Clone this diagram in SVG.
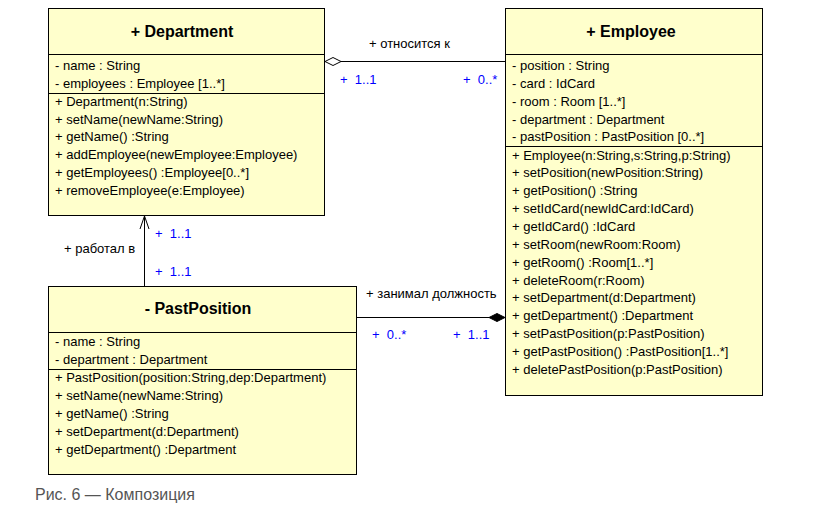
<svg xmlns="http://www.w3.org/2000/svg" width="827" height="517" viewBox="0 0 827 517">
<style>
.box{fill:#ffffcc;stroke:#000;stroke-width:1}
.ln{stroke:#000;stroke-width:1}
text{font-family:"Liberation Sans",Arial,sans-serif;font-size:13px;fill:#000}
.t{font-size:16px;font-weight:bold;text-anchor:middle}
.b{fill:#0000ff;white-space:pre}
.cap{font-size:16px;fill:#555}
</style>
<rect width="827" height="517" fill="#fff"/>
<g id="Department">
<rect class="box" x="48.5" y="8.5" width="276" height="207"/>
<line class="ln" x1="48" y1="54.5" x2="325" y2="54.5"/>
<line class="ln" x1="48" y1="93.5" x2="325" y2="93.5"/>
<text class="t" x="182" y="37">+ Department</text>
<text x="55" y="70">- name : String</text>
<text x="55" y="88">- employees : Employee [1..*]</text>
<text x="55" y="106">+ Department(n:String)</text>
<text x="55" y="124">+ setName(newName:String)</text>
<text x="55" y="141">+ getName() :String</text>
<text x="55" y="159">+ addEmployee(newEmployee:Employee)</text>
<text x="55" y="177">+ getEmployees() :Employee[0..*]</text>
<text x="55" y="195">+ removeEmployee(e:Employee)</text>
</g>
<g id="Employee">
<rect class="box" x="505.5" y="8.5" width="257" height="387"/>
<line class="ln" x1="505" y1="54.5" x2="763" y2="54.5"/>
<line class="ln" x1="505" y1="146.5" x2="763" y2="146.5"/>
<text class="t" x="631" y="37">+ Employee</text>
<text x="512" y="70">- position : String</text>
<text x="512" y="88">- card : IdCard</text>
<text x="512" y="106">- room : Room [1..*]</text>
<text x="512" y="124">- department : Department</text>
<text x="512" y="141">- pastPosition : PastPosition [0..*]</text>
<text x="512" y="160">+ Employee(n:String,s:String,p:String)</text>
<text x="512" y="177">+ setPosition(newPosition:String)</text>
<text x="512" y="195">+ getPosition() :String</text>
<text x="512" y="213">+ setIdCard(newIdCard:IdCard)</text>
<text x="512" y="231">+ getIdCard() :IdCard</text>
<text x="512" y="249">+ setRoom(newRoom:Room)</text>
<text x="512" y="267">+ getRoom() :Room[1..*]</text>
<text x="512" y="285">+ deleteRoom(r:Room)</text>
<text x="512" y="302">+ setDepartment(d:Department)</text>
<text x="512" y="320">+ getDepartment() :Department</text>
<text x="512" y="338">+ setPastPosition(p:PastPosition)</text>
<text x="512" y="356">+ getPastPosition() :PastPosition[1..*]</text>
<text x="512" y="374">+ deletePastPosition(p:PastPosition)</text>
</g>
<g id="PastPosition">
<rect class="box" x="48.5" y="286.5" width="308" height="188"/>
<line class="ln" x1="48" y1="332.5" x2="357" y2="332.5"/>
<line class="ln" x1="48" y1="369.5" x2="357" y2="369.5"/>
<text class="t" x="198" y="314">- PastPosition</text>
<text x="55" y="346">- name : String</text>
<text x="55" y="364">- department : Department</text>
<text x="55" y="382">+ PastPosition(position:String,dep:Department)</text>
<text x="55" y="400">+ setName(newName:String)</text>
<text x="55" y="418">+ getName() :String</text>
<text x="55" y="436">+ setDepartment(d:Department)</text>
<text x="55" y="454">+ getDepartment() :Department</text>
</g>
<g id="connectors">
<line class="ln" x1="341" y1="61.5" x2="505" y2="61.5"/>
<polygon points="325,61.5 333,57.5 341,61.5 333,65.5" fill="#fff" stroke="#000"/>
<text x="369" y="48">+ относится к</text>
<text class="b" x="340" y="84">+  1..1</text>
<text class="b" x="463" y="84">+  0..*</text>
<line class="ln" x1="144.5" y1="286" x2="144.5" y2="216"/>
<polyline points="140,229 144.5,216 149,229" fill="none" stroke="#000"/>
<text x="64" y="253">+ работал в</text>
<text class="b" x="155" y="238">+  1..1</text>
<text class="b" x="155" y="276">+  1..1</text>
<line class="ln" x1="357" y1="317.5" x2="489" y2="317.5"/>
<polygon points="505,317.5 497,313.5 489,317.5 497,321.5" fill="#000" stroke="#000"/>
<text x="366" y="298">+ занимал должность</text>
<text class="b" x="372" y="339">+  0..*</text>
<text class="b" x="453" y="339">+  1..1</text>
</g>
<text class="cap" x="35" y="500">Рис. 6 — Композиция</text>
</svg>
